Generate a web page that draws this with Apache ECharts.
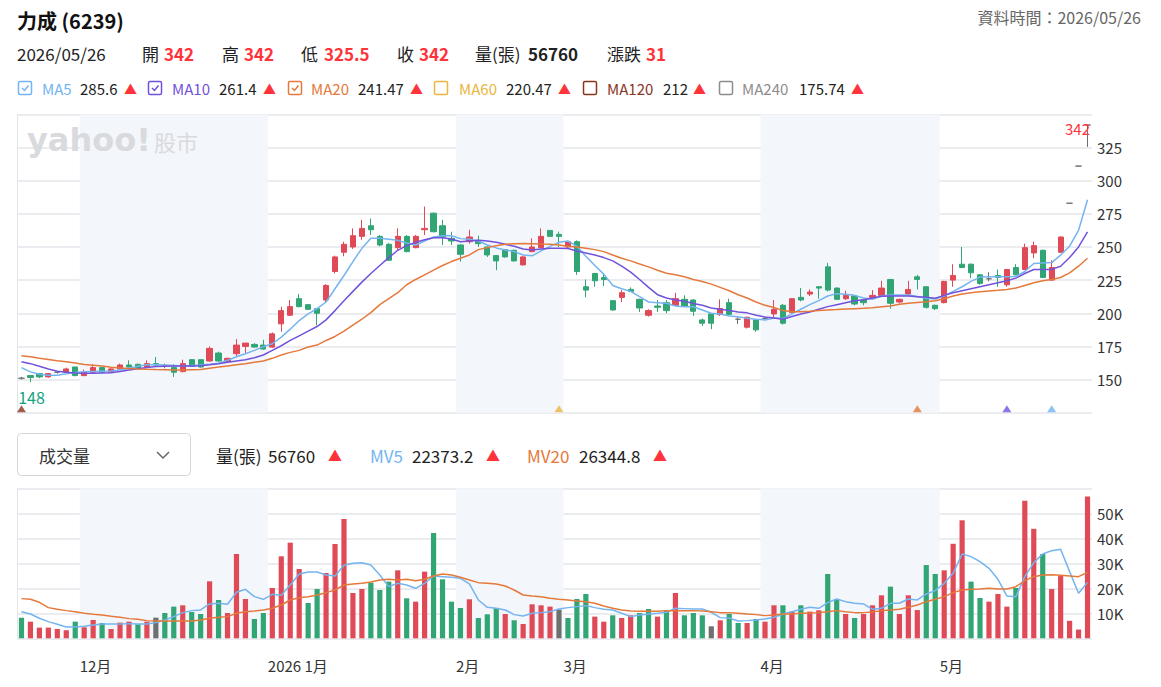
<!DOCTYPE html>
<html>
<head>
<meta charset="utf-8">
<script src="https://cdn.jsdelivr.net/npm/echarts@6/dist/echarts.min.js"></script>
<style>
  html, body { margin: 0; padding: 0; background: #fff; }
  #main { width: 1161px; height: 687px; }
</style>
</head>
<body>
<div id="main"></div>
<script>
// 交易日
const dates = [
  '2025/11/20','2025/11/21','2025/11/24','2025/11/25','2025/11/26','2025/11/27','2025/11/28',
  '2025/12/01','2025/12/02','2025/12/03','2025/12/04','2025/12/05','2025/12/08','2025/12/09','2025/12/10','2025/12/11','2025/12/12',
  '2025/12/15','2025/12/16','2025/12/17','2025/12/18','2025/12/19','2025/12/22','2025/12/23','2025/12/24','2025/12/29','2025/12/30','2025/12/31',
  '2026/01/02','2026/01/05','2026/01/06','2026/01/07','2026/01/08','2026/01/09','2026/01/12','2026/01/13','2026/01/14','2026/01/15','2026/01/16',
  '2026/01/19','2026/01/20','2026/01/21','2026/01/22','2026/01/23','2026/01/26','2026/01/27','2026/01/28','2026/01/29','2026/01/30',
  '2026/02/02','2026/02/03','2026/02/04','2026/02/05','2026/02/06','2026/02/09','2026/02/10','2026/02/11','2026/02/23','2026/02/24','2026/02/25','2026/02/26',
  '2026/03/02','2026/03/03','2026/03/04','2026/03/05','2026/03/06','2026/03/09','2026/03/10','2026/03/11','2026/03/12','2026/03/13','2026/03/16',
  '2026/03/17','2026/03/18','2026/03/19','2026/03/20','2026/03/23','2026/03/24','2026/03/25','2026/03/26','2026/03/27','2026/03/30','2026/03/31',
  '2026/04/01','2026/04/02','2026/04/07','2026/04/08','2026/04/09','2026/04/10','2026/04/13','2026/04/14','2026/04/15','2026/04/16','2026/04/17',
  '2026/04/20','2026/04/21','2026/04/22','2026/04/23','2026/04/24','2026/04/27','2026/04/28','2026/04/29','2026/04/30',
  '2026/05/04','2026/05/05','2026/05/06','2026/05/07','2026/05/08','2026/05/11','2026/05/12','2026/05/13','2026/05/14','2026/05/15',
  '2026/05/18','2026/05/19','2026/05/20','2026/05/21','2026/05/22','2026/05/25','2026/05/26'
];

// [開, 收, 低, 高]
const ohlc = [
  [151,151,150,152],[153,151.5,148,153.5],[154.5,152,151,155],[152,154.5,151.5,155],[155.5,155.5,154.5,156.5],
  [155.5,158,155,159],[159.5,153,152.5,159.5],[153,155.5,152.5,157.5],[155.5,159,155,161.5],[159,155.5,155,159.5],
  [155.5,158,155,158.5],[158,161,157.5,162],[161,159.5,159,164.5],[161.5,158.5,158,162],[159.5,162,159,164.5],
  [162,161,160.5,167],[160.5,160.5,158.5,162],[159,155.5,152,161.5],[156,162,155.5,165],[165,160,159.5,165.5],
  [165,159.5,159,165],[164,173.5,163.5,175],[170,164,163.5,171],[163.5,166,162.5,166.5],[169.5,176,167,180.5],
  [175,177.5,170,177.5],[176.5,174.5,174,177.5],[176,173,172.5,180],[174.5,184.5,174,185.5],[192,202,186,205],
  [198.5,205,198,210],[211,205,204.5,214.5],[206.5,203,202.5,207],[203.5,200,191,204],[210,221,208.5,222],
  [231.5,242.5,230,243.5],[246,252,243,254],[250,258.5,248.5,264],[258,264,255.5,270.5],[266,263,259,271.5],
  [258,251.5,250.5,259],[252,240,239.5,253],[249.5,258,247.5,264],[258,246.5,246,259],[249.5,258,249,259],
  [263,264,259,280.5],[275.5,261.5,261,276],[266,257.5,251.5,270.5],[256.5,254.5,251.5,261.5],[251.5,244.5,239,252],
  [254,257.5,252.5,263],[255,252.5,250,258.5],[250,244,242.5,250.5],[243.5,239.5,232.5,244],[248,242.5,242,248.5],
  [247.5,239.5,239,248],[236.5,242.5,236,243],[246.5,250,246,256.5],[249.5,258,249,264],[262.5,258,257.5,262.5],
  [259.5,258,250,261.5],[250,254,249,254.5],[254,231.5,229,255],[220,217.5,212,225.5],[230,224.5,220,230.5],
  [227,225.5,220.5,230],[209.5,202.5,202,210],[212,215.5,208.5,217.5],[218,216.5,216,219.5],[210.5,204,201,211],
  [198.5,202,197.5,203],[205.5,204.5,201,210],[208,202,200,210],[206,211,205.5,215.5],[210.5,205.5,205,213.5],
  [210,201.5,198,210.5],[195,192.5,190.5,196],[199.5,192.5,188,200],[199,203.5,198,210.5],[208,199,199,211],
  [195.5,195.5,192,197],[189.5,197,188.5,197.5],[195,187.5,186,195.5],[196,196,195.5,197],[199.5,203,197,210],
  [206,192.5,191.5,207],[200.5,211,200,211.5],[212,210,209,219],[214.5,216,213,218],[220,219,211,220.5],
  [235,217.5,216.5,238],[219,210.5,210,219.5],[211,213.5,210,217],[213,207,206,213.5],[210,208,206,211],
  [212,213.5,211.5,217.5],[213.5,219,212.5,224.5],[225.5,207.5,203.5,225.5],[208.5,210.5,207.5,211],[214.5,218,213.5,224.5],
  [227.5,225.5,218,229],[220,204.5,203.5,220.5],[206,203.5,202.5,206.5],[208,224,207.5,224.5],[225,228.5,220,237],
  [237,234.5,234,250],[237,230.5,226.5,237.5],[229,222.5,221.5,229.5],[226,226,224,231],[228.5,227,220,233],
  [221.5,233,220,233.5],[234.5,229,228.5,237],[233,249.5,232.5,252.5],[245.5,251,241.5,254],[247.5,227,226.5,248],
  [225,234.5,224.5,240],[246,257.5,245.5,258],[283,283,283,283],[311,311,311,311],[342,342,325.5,342]
];

const ma5 = [
  159,155.8,154,153.2,153.3,154.3,155.4,155.8,156.1,156.3,
  156.4,157.2,158.6,160,161.2,161.1,161,160.6,160.2,160.6,
  161,161.5,162.3,164.5,167.2,169.5,172,174.8,177,182,
  188,194.5,199.5,203.5,208.5,218.5,228.5,239,249,256.5,
  256.5,255.8,255,253,251.5,254.5,257.5,258.5,258.5,256.3,
  255.8,254.5,251.5,249.3,247.8,246.5,244,243.3,247,250.5,
  253.5,254.5,250.5,243,236,229.5,221,218.5,216.5,212.5,
  208.5,208,207.5,205.5,205,204.9,202.5,200,199.5,198,
  197.3,196.2,195.5,195,196.5,196,199.5,203,206.5,209.5,
  213,214.8,214.3,213.5,211.5,210.5,213,213.7,213.7,213.7,
  212.7,211.3,210.7,213,216.5,220,224,227.3,227.6,227.6,
  227.6,227.8,231.5,237.5,238,238.2,243.9,250.6,262.6,285.6
];
const ma10 = [
  163.5,162,160,158,156.3,155.5,155,154.7,154.8,155,
  155.2,156,157.2,158.2,159.1,159.8,160,160.2,160.2,160.3,
  160.5,161.2,162,163,164,165,166.5,168.5,172,175.5,
  179.5,183,186.5,190,195,202,209.5,216.5,223.5,230,
  236,242,247.5,251,253.5,255.5,257,257,256,254,
  254.5,255,254.5,253.5,252,250.5,248.5,247.8,248.5,249,
  249,248.8,247,245.5,244,242,239.5,235.5,231,225.5,
  219.5,214,211.5,210,209,207.3,206,204,203,202,
  201,200.3,198.5,197.2,196.5,195.5,197.5,199.5,201,203,
  205,206.5,208,209.5,210.2,211.5,212.8,213,213,213,
  212.5,212,211.3,213.5,215.5,217,218.5,220,221.5,223,
  224.5,226.5,230,233,233.1,233.1,235.5,242,250,261.4
];
const ma20 = [
  168,167.2,166,165.2,164.2,163.5,162.5,161.3,160.8,160.3,
  159.2,158.8,158.4,158,157.7,157.5,157.4,157.2,157.2,157.4,
  157.6,158.6,159.4,160.3,161.2,162,163,164,166,168.5,
  170.5,172,174.5,176,179.5,182.5,186.5,191,195.5,200.5,
  206.5,211,215.5,221.5,225.5,229,232.5,236,239,241.5,
  244,248,249.5,251,252,252.5,252.7,252.5,252.2,252,
  251.5,250.5,250,249,248,246.5,244,241.5,239.5,237.2,
  235,232.5,230.2,229,227.5,225.5,224,222,219.5,217,
  214,211.5,208.5,206,204.3,202,201.2,201.2,201.5,202,
  202.5,202.8,203.2,203.5,203.7,204.2,205,205.5,206.8,207.5,
  208.2,208.7,209.5,211,213,214.5,215.5,216.3,216.8,217.3,
  218,219,221,223,224.5,225.5,227,230.5,235.5,241.47
];

// 成交量(張)
const volumes = [
  8250,6650,4270,4270,3730,3200,6650,4400,7330,6130,
  3730,6270,6650,5600,6650,8250,10130,12670,13200,10530,
  9730,22800,15330,10130,33730,15730,7730,10130,20130,32800,
  38260,27730,14130,19730,26130,37730,47720,18130,19730,22260,
  19320,22660,27190,16000,14660,26660,42120,23600,14660,12130,
  15600,8130,9600,12130,9730,7200,5730,13600,13200,12670,
  11470,8130,15730,17730,8670,6650,9200,8130,9200,10130,
  11730,8670,11330,18130,9200,10130,9200,4800,7200,9730,
  6130,6130,7730,6650,13200,13200,10660,13200,10660,11200,
  25730,15730,9730,8130,9730,13200,17200,20660,9730,17200,
  11300,29300,25730,27190,37800,47200,22660,16130,14660,17730,
  12670,20130,55000,43800,33730,19700,24900,7000,3506,56760
];
// 量的漲跌（與前一日收盤比）: 1 漲, -1 跌, 0 平
const volTrend = [
  -1,1,1,1,1,1,-1,1,1,-1,
  1,1,1,-1,1,0,-1,-1,1,-1,
  -1,1,-1,1,1,1,-1,-1,1,1,
  1,1,-1,-1,1,1,1,1,1,-1,
  -1,-1,1,-1,1,1,-1,-1,-1,-1,
  1,-1,-1,-1,1,-1,1,1,1,1,
  0,-1,-1,-1,1,1,-1,1,1,-1,
  -1,1,-1,1,-1,-1,-1,0,1,-1,
  -1,1,-1,1,1,-1,1,-1,1,1,
  -1,-1,1,-1,1,1,1,-1,1,1,
  1,-1,-1,1,1,1,-1,-1,1,1,
  1,-1,1,1,-1,1,1,1,1,1
];
const mv5 = [
  10660,9730,8000,6660,5600,4540,4540,4800,5330,5730,
  5730,5730,5870,5730,5730,6270,7330,8670,10270,11070,
  11330,13730,14000,13600,18400,19600,16660,15600,17600,17200,
  21330,25730,26530,26530,25330,24930,29190,30000,30260,29330,
  25330,20660,22000,21330,20000,22000,24930,24660,24400,24000,
  21730,15330,12400,12000,11330,9470,8930,10000,10270,10660,
  11730,12270,12670,13070,12270,11600,11330,10000,8670,9330,
  9730,10000,10400,12000,11870,11730,11730,10400,8270,8130,
  6930,7070,7330,7730,8400,9730,10660,11600,12400,12000,
  14270,15730,14660,14000,13730,11600,12000,14000,14000,15730,
  15330,17730,19060,22000,26000,33730,32660,30660,28000,23600,
  16930,16660,24660,30260,33730,35060,35590,26660,18000,22373.2
];
const mv20 = [
  15870,15600,14400,12270,11600,11070,10660,10000,9600,9330,
  8800,8400,7870,7600,7070,6930,6930,6930,6930,6930,
  7330,8000,8400,8670,10000,10660,10930,11330,12000,13330,
  15330,16260,16660,17330,18260,19330,21330,21730,22000,22530,
  23330,23600,23330,23600,23060,23600,24930,25730,25330,24400,
  23330,22260,22000,21730,20930,19330,17330,16930,16660,16000,
  15600,15330,14930,14660,14000,12930,12000,11330,10930,10800,
  10800,10800,11070,11070,11070,11070,10930,10660,10270,10270,
  10000,9730,9470,9070,9330,9730,9730,10000,10000,10270,
  10660,11070,10660,10270,10270,10530,11070,11330,11600,12400,
  13330,14660,15600,16660,18260,19330,19600,19730,20000,19730,
  19730,20660,23060,24660,25330,25460,25200,24930,24660,26344.8
];

// 表頭數值
const stockName = '力成 (6239)';
const quote = { date: '2026/05/26', open: 342, high: 342, low: 325.5, close: 342, vol: 56760, change: 31 };
const maNames = ['MA5', 'MA10', 'MA20', 'MA60', 'MA120', 'MA240'];
const maPeriods = [5, 10, 20, 60, 120, 240];
const maLatest = [285.6, 261.4, 241.47, 220.47, 212, 175.74];
const maChecked = [true, true, true, false, false, false];
const mvNames = ['MV5', 'MV20'];
const mvLatest = [22373.2, 26344.8];

const C_UP = '#e04a57';
const C_DOWN = '#31a574';
const C_FLAT = '#6f6f6f';
const C_RED_TXT = '#ff333a';
const maColors = ['#74b4f0', '#7252dc', '#e5793b', '#e9b640', '#8a351f', '#8d8d8d'];
const FONT = '"Noto Sans CJK TC", "Noto Sans", sans-serif';
const GRID_LINE = '#e4e6ea';

const N = dates.length;

// 月份區段（底色、月份標籤）
const segs = [];
dates.forEach((d, i) => {
  const m = d.slice(0, 7);
  if (!segs.length || segs[segs.length - 1].m !== m) segs.push({ m, start: i });
});
segs.forEach((s, k) => { s.end = k + 1 < segs.length ? segs[k + 1].start : N; });
const bands = segs.filter((s, k) => k % 2 === 1).map(s => [{ xAxis: s.start }, { xAxis: s.end }]);
const monthLabel = {};
segs.slice(1).forEach(s => {
  const [y, mm] = s.m.split('/');
  monthLabel[s.start] = (mm === '01' ? y + ' ' : '') + Number(mm) + '月';
});

// 扣抵位置標記
const deductMarks = maPeriods
  .map((p, k) => ({ idx: N - p, color: maColors[k] }))
  .filter(d => d.idx >= 0)
  .map(d => ({ value: [d.idx, 125], itemStyle: { color: d.color } }));

// 表頭文字
const txt = (x, y, text, font, fill, align) => ({
  type: 'text', x, y, silent: true,
  style: { text, font, fill, textAlign: align || 'left', textVerticalAlign: 'middle' }
});
const graphics = [];
graphics.push(txt(17, 20, stockName, 'bold 20px ' + FONT, '#111'));
graphics.push(txt(1141, 17, '資料時間：' + quote.date, '16px ' + FONT, '#666', 'right'));

const row2 = [
  [17, quote.date, false], [142, '開', false], [164, String(quote.open), true],
  [222, '高', false], [244, String(quote.high), true], [301, '低', false], [324, String(quote.low), true],
  [397, '收', false], [419, String(quote.close), true], [475, '量(張)', false], [528, String(quote.vol), 'dark'],
  [607, '漲跌', false], [646, String(quote.change), true]
];
row2.forEach(([x, t, v]) => {
  if (v === 'dark') graphics.push(txt(x, 53, t, 'bold 17px ' + FONT, '#222'));
  else if (v) graphics.push(txt(x, 53, t, 'bold 17px ' + FONT, C_RED_TXT));
  else graphics.push(txt(x, 53, t, '17px ' + FONT, '#222'));
});

const legendX = [[18, 42, 80, 124], [148, 172, 219, 263], [288, 311, 358, 410],
                 [434, 459, 506, 558], [583, 607, 663, 693], [719, 742, 799, 851]];
maNames.forEach((name, k) => {
  const [bx, nx, vx, ax] = legendX[k];
  const col = maColors[k];
  graphics.push({ type: 'rect', silent: true, shape: { x: bx + 0.5, y: 81.5, width: 13, height: 13, r: 1.5 },
    style: { fill: '#fff', stroke: col, lineWidth: 1.5 } });
  if (maChecked[k]) {
    graphics.push({ type: 'polyline', silent: true,
      shape: { points: [[bx + 4, 88], [bx + 6.5, 90.5], [bx + 10.5, 85.5]] },
      style: { stroke: col, lineWidth: 1.5, fill: null } });
  }
  graphics.push(txt(nx, 88, name, '15px ' + FONT, col));
  graphics.push(txt(vx, 88, String(maLatest[k]), '15px ' + FONT, '#222'));
  graphics.push(txt(ax, 88, '▲', '13px ' + FONT, C_RED_TXT));
});

// 成交量下拉框與圖例
graphics.push({ type: 'rect', silent: true, shape: { x: 17.5, y: 433.5, width: 173, height: 42, r: 4 },
  style: { fill: '#fff', stroke: '#d6d6d6', lineWidth: 1 } });
graphics.push(txt(39, 455, '成交量', '17px ' + FONT, '#333'));
graphics.push({ type: 'polyline', silent: true, shape: { points: [[157, 452], [163, 458], [169, 452]] },
  style: { stroke: '#666', lineWidth: 1.5, fill: null } });
graphics.push(txt(216, 455, '量(張)', '17px ' + FONT, '#222'));
graphics.push(txt(268, 455, String(quote.vol), '17px ' + FONT, '#222'));
graphics.push(txt(328, 455, '▲', '14px ' + FONT, C_RED_TXT));
[[370, 412, 486], [527, 579, 653]].forEach(([nx, vx, ax], k) => {
  graphics.push(txt(nx, 455, mvNames[k], '17px ' + FONT, maColors[k === 0 ? 0 : 2]));
  graphics.push(txt(vx, 455, String(mvLatest[k]), '17px ' + FONT, '#222'));
  graphics.push(txt(ax, 455, '▲', '14px ' + FONT, C_RED_TXT));
});

// 浮水印（畫在月份底色之上）
const watermark = [
  Object.assign(txt(27, 140, 'yahoo!', 'bold 32px "DejaVu Sans"', '#d9dade'), { z: 10 }),
  Object.assign(txt(154, 141, '股市', '22px ' + FONT, '#d9dade'), { z: 10 })
];

const chart = echarts.init(document.getElementById('main'), null, { renderer: 'svg' });

const option = {
  animation: false,
  backgroundColor: '#fff',
  textStyle: { fontFamily: FONT },
  grid: [
    { left: 17, right: 69, top: 114.4, height: 298.3 },
    { left: 17, right: 69, top: 488.3, height: 150 }
  ],
  xAxis: [
    { type: 'category', gridIndex: 0, position: 'bottom', data: dates, boundaryGap: true, show: false },
    { type: 'category', gridIndex: 1, position: 'top', data: dates, boundaryGap: true, show: false },
    { type: 'value', gridIndex: 0, position: 'top', min: 0, max: N, show: false },
    {
      type: 'value', gridIndex: 1, position: 'bottom', min: 0, max: N, interval: 1,
      axisLine: { show: false }, axisTick: { show: false }, splitLine: { show: false },
      axisLabel: {
        formatter: v => monthLabel[v] || '',
        align: 'left', margin: 20, color: '#333', fontSize: 15, fontFamily: FONT
      }
    }
  ],
  yAxis: [
    {
      type: 'value', gridIndex: 0, position: 'right', min: 125, max: 350, interval: 25,
      axisLine: { show: true, lineStyle: { color: GRID_LINE } },
      axisTick: { show: false },
      splitLine: { lineStyle: { color: GRID_LINE, width: 1.5 } },
      axisLabel: { showMinLabel: false, showMaxLabel: false, color: '#333', fontSize: 15, margin: 5 }
    },
    {
      type: 'value', gridIndex: 1, position: 'right', min: 0, max: 60000, interval: 10000,
      axisLine: { show: true, lineStyle: { color: GRID_LINE } },
      axisTick: { show: false },
      splitLine: { lineStyle: { color: GRID_LINE, width: 1.5 } },
      axisLabel: {
        showMinLabel: false, showMaxLabel: false, color: '#333', fontSize: 15, margin: 5,
        formatter: v => (v / 1000) + 'K'
      }
    }
  ],
  series: [
    {
      type: 'line', xAxisIndex: 2, yAxisIndex: 0, data: [], silent: true, z: 0,
      markArea: { silent: true, itemStyle: { color: '#f3f6fa' }, data: bands }
    },
    {
      type: 'line', xAxisIndex: 3, yAxisIndex: 1, data: [], silent: true, z: 0,
      markArea: { silent: true, itemStyle: { color: '#f3f6fa' }, data: bands }
    },
    {
      name: 'K', type: 'candlestick', xAxisIndex: 0, yAxisIndex: 0, data: ohlc,
      barWidth: '64%',
      itemStyle: {
        color: C_UP, color0: C_DOWN, borderColor: C_UP, borderColor0: C_DOWN,
        borderColorDoji: C_FLAT, borderWidth: 1
      },
      markPoint: {
        symbol: 'circle', symbolSize: 0,
        data: [
          { type: 'max', valueDim: 'highest',
            label: { show: true, position: 'inside', offset: [-10, 3], color: C_RED_TXT, fontSize: 15, formatter: p => p.value } },
          { type: 'min', valueDim: 'lowest',
            label: { show: true, position: 'inside', offset: [1, 15], color: '#12a37b', fontSize: 16, formatter: p => p.value } }
        ]
      }
    },
    { name: 'MA5', type: 'line', xAxisIndex: 0, yAxisIndex: 0, data: ma5, symbol: 'none', lineStyle: { color: maColors[0], width: 1.5 } },
    { name: 'MA10', type: 'line', xAxisIndex: 0, yAxisIndex: 0, data: ma10, symbol: 'none', lineStyle: { color: maColors[1], width: 1.5 } },
    { name: 'MA20', type: 'line', xAxisIndex: 0, yAxisIndex: 0, data: ma20, symbol: 'none', lineStyle: { color: maColors[2], width: 1.5 } },
    {
      type: 'scatter', xAxisIndex: 0, yAxisIndex: 0, data: deductMarks,
      symbol: 'triangle', symbolSize: [9, 7], symbolOffset: [0, -4], silent: true
    },
    {
      name: '成交量', type: 'bar', xAxisIndex: 1, yAxisIndex: 1, barWidth: '58%',
      data: volumes.map((v, i) => ({
        value: v,
        itemStyle: { color: volTrend[i] > 0 ? C_UP : volTrend[i] < 0 ? C_DOWN : C_FLAT }
      }))
    },
    { name: 'MV5', type: 'line', xAxisIndex: 1, yAxisIndex: 1, data: mv5, symbol: 'none', lineStyle: { color: maColors[0], width: 1.5 } },
    { name: 'MV20', type: 'line', xAxisIndex: 1, yAxisIndex: 1, data: mv20, symbol: 'none', lineStyle: { color: maColors[2], width: 1.5 } }
  ],
  graphic: [
    { type: 'group', silent: true, children: graphics },
    { type: 'group', silent: true, z: 10, children: watermark }
  ]
};

chart.setOption(option);
</script>
</body>
</html>
